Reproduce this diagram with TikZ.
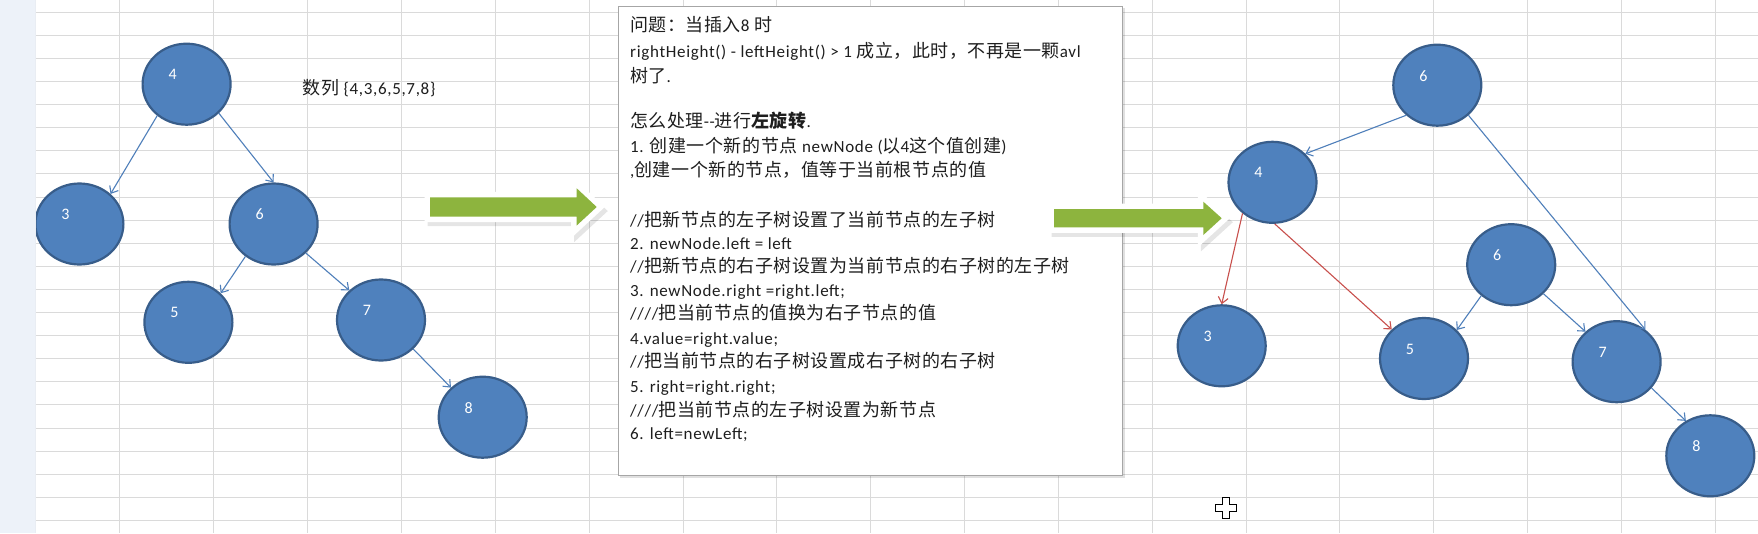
\documentclass[tikz,border=0pt]{standalone}
\usepackage{fontspec}
\setmainfont{Carlito}[LetterSpace=4]
\newfontfamily\cjk{Noto Sans CJK SC}[LetterSpace=3]
\newfontfamily\labfont{Carlito}
\usetikzlibrary{arrows.meta,shapes.geometric}
\definecolor{nodefill}{HTML}{4F81BD}
\definecolor{nodeline}{HTML}{385D8A}
\definecolor{edgeblue}{HTML}{4F7FBA}
\definecolor{edgered}{HTML}{C8504D}
\definecolor{gridc}{HTML}{DADADA}
\definecolor{stripc}{HTML}{EDF2F9}
\definecolor{arrowgreen}{HTML}{8DB43E}
\definecolor{txt}{HTML}{1E1E1E}
\definecolor{boxline}{HTML}{A6A6A6}
\tikzset{
  treenode/.style={ellipse, fill=nodefill, draw=nodeline, line width=2.2pt,
    minimum width=88pt, minimum height=81pt, inner sep=0pt},
  nodelabel/.style={text=white, font=\labfont\fontsize{16}{18}\selectfont,
    xshift=-14pt, yshift=9.5pt, inner sep=0pt},
  blueedge/.style={draw=edgeblue, line width=1.1pt, -{Straight Barb[length=6pt,width=10pt]}},
  rededge/.style={draw=edgered, line width=1.1pt, -{Straight Barb[length=6pt,width=10pt]}},
  gridline/.style={draw=gridc, line width=1pt},
  tline/.style={anchor=base west, inner sep=0pt, text=txt, font=\fontsize{17}{19}\selectfont},
  cjkline/.style={font=\fontsize{17}{19}\selectfont},
  greenarrow/.style={fill=arrowgreen},
  arrowhalo/.style={draw=white, line width=11pt, line join=miter, fill=white},
  arrowshadow/.style={fill=black, draw=black, line width=11pt, line join=miter, opacity=0.10},
}
\newcommand\zh[1]{{\cjk\fontsize{18}{19}\selectfont #1}}
\begin{document}
\begin{tikzpicture}[x=1pt,y=-1pt]
\useasboundingbox (0,0) rectangle (1758,533);
\fill[white] (0,0) rectangle (1758,533);
% grid
\foreach \k in {0,...,22} \draw[gridline] (35.6,{round(11.7+23.1*\k)+0.5}) -- (1758,{round(11.7+23.1*\k)+0.5});
\foreach \k in {0,...,17} \draw[gridline] ({round(119.4+93.85*\k)+0.5},0) -- ({round(119.4+93.85*\k)+0.5},533);

% text box
\fill[black,opacity=0.12] (620,8) rectangle (1125,478);
\node[draw=boxline, fill=white, line width=1pt, anchor=north west, inner sep=0pt,
      minimum width=504pt, minimum height=469pt] (box) at (618,6) {};
\node[tline] (t1) at (630,31) {\zh{问题：当插入}8 \zh{时}};
\node[tline] (t2) at (630,57.7) {rightHeight() - leftHeight() > 1 \zh{成立，此时，不再是一颗}avl};
\node[tline] (t3) at (630,82.7) {\zh{树了}.};
\node[tline] (t4) at (630,127.7) {\zh{怎么处理}-{}-\zh{进行{\bfseries 左旋转}}.};
\node[tline] (t5) at (630,152.7) {1. \zh{创建一个新的节点} newNode (\zh{以}4\zh{这个值创建})};
\node[tline] (t6) at (630,176) {,\zh{创建一个新的节点，值等于当前根节点的值}};
\node[tline] (t7) at (630,226) {//\zh{把新节点的左子树设置了当前节点的左子树}};
\node[tline] (t8) at (630,249.3) {2. newNode.left = left};
\node[tline] (t9) at (630,272.7) {//\zh{把新节点的右子树设置为当前节点的右子树的左子树}};
\node[tline] (t10) at (630,296) {3. newNode.right =right.left;};
\node[tline] (t11) at (630,319.3) {////\zh{把当前节点的值换为右子节点的值}};
\node[tline] (t12) at (630,344.3) {4.value=right.value;};
\node[tline] (t13) at (630,367.7) {//\zh{把当前节点的右子树设置成右子树的右子树}};
\node[tline] (t14) at (630,392.7) {5. right=right.right;};
\node[tline] (t15) at (630,416) {////\zh{把当前节点的左子树设置为新节点}};
\node[tline] (t16) at (630,439.3) {6. left=newLeft;};

\node[tline] (seq) at (302.3,94.3) {\zh{数列} \{4,3,6,5,7,8\}};

% left tree
\node[treenode, label={[nodelabel]center:4}] (L4) at (186.6,84.2) {};
\node[treenode, label={[nodelabel]center:3}] (L3) at (79.4,224) {};
\node[treenode, label={[nodelabel]center:6}] (L6) at (273.6,224) {};
\node[treenode, label={[nodelabel]center:5}] (L5) at (188.4,322.3) {};
\node[treenode, label={[nodelabel]center:7}] (L7) at (381,320) {};
\node[treenode, label={[nodelabel]center:8}] (L8) at (482.7,417.2) {};
\draw[blueedge] (L4.-133.7) -- (L3.44.7);
\draw[blueedge] (L4.-42.7) -- (L6.90);
\draw[blueedge] (L6.-131.8) -- (L5.42.8);
\draw[blueedge] (L6.-42.1) -- (L7.137.6);
\draw[blueedge] (L7.-42) -- (L8.137.6);

% right tree
\node[treenode, label={[nodelabel]center:6}] (R6) at (1437.3,85.2) {};
\node[treenode, label={[nodelabel]center:4}] (R4) at (1272.5,182.3) {};
\node[treenode, label={[nodelabel]center:3}] (R3) at (1221.7,345.8) {};
\node[treenode, label={[nodelabel]center:6}] (Rm6) at (1511.2,264.7) {};
\node[treenode, label={[nodelabel]center:5}] (R5) at (1424,358.5) {};
\node[treenode, label={[nodelabel]center:7}] (R7) at (1616.6,361.7) {};
\node[treenode, label={[nodelabel]center:8}] (R8) at (1710.3,455.8) {};
\draw[blueedge] (R6.-136.6) -- (R4.41);
\draw[blueedge] (R6.-44) -- (R7.48);
\draw[rededge] (R4.-134.6) -- (R3.90);
\draw[rededge] (R4.-87.7) -- (R5.138);
\draw[blueedge] (Rm6.-134.5) -- (R5.41.4);
\draw[blueedge] (Rm6.-42.1) -- (R7.136.5);
\draw[blueedge] (R7.-37.9) -- (R8.125.4);

% green block arrows
\path[arrowshadow] (433,201.3) -- (579.7,201.3) -- (579.7,192.3) -- (599.7,211) -- (579.7,229.5) -- (579.7,220.7) -- (433,220.7) -- cycle;
\path[arrowhalo] (430,197.3) -- (576.7,197.3) -- (576.7,188.3) -- (596.7,207) -- (576.7,225.5) -- (576.7,216.7) -- (430,216.7) -- cycle;
\path[greenarrow] (430,197.3) -- (576.7,197.3) -- (576.7,188.3) -- (596.7,207) -- (576.7,225.5) -- (576.7,216.7) -- (430,216.7) -- cycle;

\path[arrowshadow] (1057,213) -- (1206.3,213) -- (1206.3,205.7) -- (1224.7,222.2) -- (1206.3,239) -- (1206.3,231.3) -- (1057,231.3) -- cycle;
\path[arrowhalo] (1054,209) -- (1203.3,209) -- (1203.3,201.7) -- (1221.7,218.2) -- (1203.3,235) -- (1203.3,227.3) -- (1054,227.3) -- cycle;
\path[greenarrow] (1054,209) -- (1203.3,209) -- (1203.3,201.7) -- (1221.7,218.2) -- (1203.3,235) -- (1203.3,227.3) -- (1054,227.3) -- cycle;

% left strip
\fill[stripc] (0,0) rectangle (35.6,533);
\draw[draw=stripc!80!gridc, line width=1pt] (35.6,0) -- (35.6,533);

% cursor
\draw[fill=white, line width=1.4pt, line join=miter] (1222.3,497.5) -- (1229.7,497.5) -- (1229.7,504.3) -- (1236.5,504.3) -- (1236.5,511.7) -- (1229.7,511.7) -- (1229.7,518.5) -- (1222.3,518.5) -- (1222.3,511.7) -- (1215.5,511.7) -- (1215.5,504.3) -- (1222.3,504.3) -- cycle;
\end{tikzpicture}
\end{document}
